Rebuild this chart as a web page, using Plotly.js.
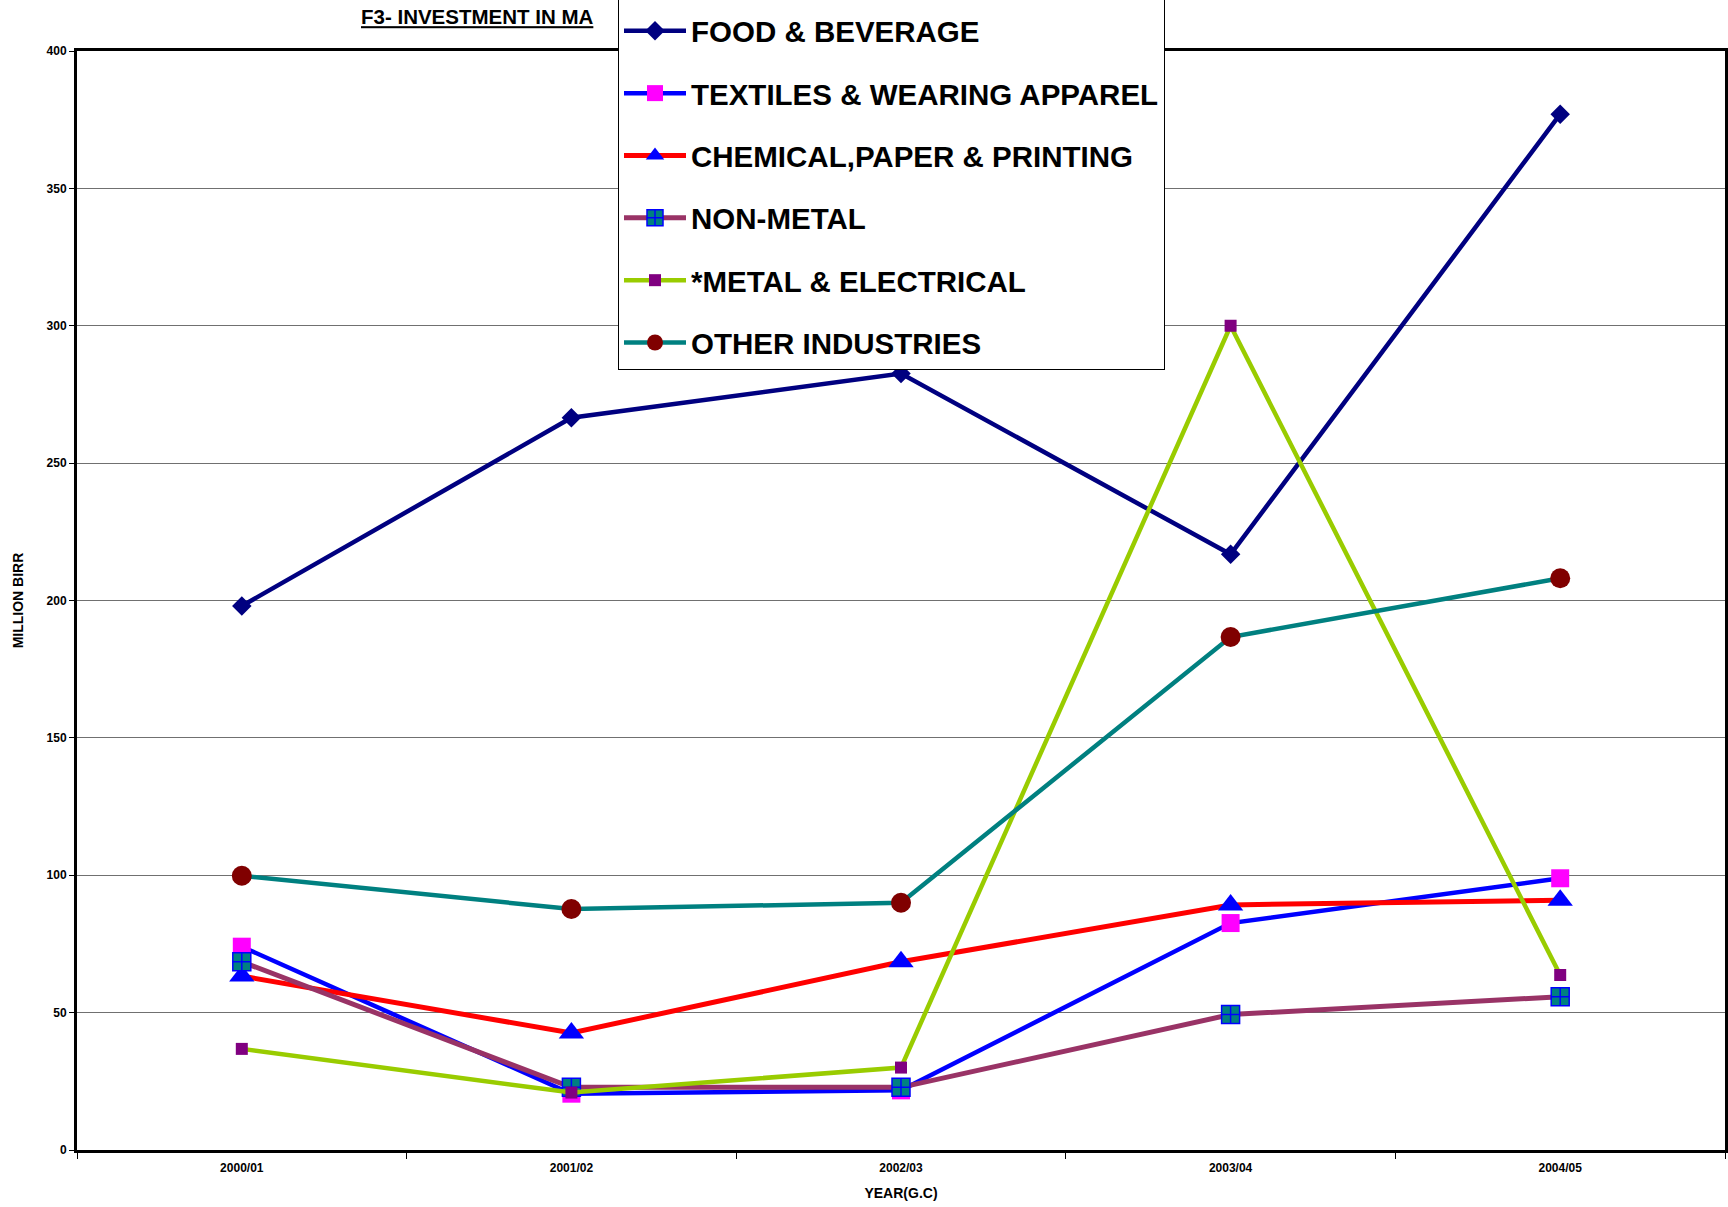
<!DOCTYPE html>
<html>
<head>
<meta charset="utf-8">
<script src="https://cdn.plot.ly/plotly-3.0.1.min.js"></script>
<style>
  html, body { margin: 0; padding: 0; background: #ffffff; }
  #chart { width: 1728px; height: 1207px; }
</style>
</head>
<body>
<div id="chart"></div>
<script>
// ---- Data (million Birr) ----
const years = ['2000/01', '2001/02', '2002/03', '2003/04', '2004/05'];
const foodBeverage = [198, 266.5, 282.6, 216.8, 377];
const textilesApparel = [74, 20.5, 21.7, 82.6, 98.9];
const chemicalPaperPrinting = [63.3, 42.6, 68.5, 89.2, 90.9];
const nonMetal = [68.5, 22.8, 22.8, 49.3, 55.8];
const metalElectrical = [36.8, 20.9, 30.0, 300, 63.7];
const otherIndustries = [99.8, 87.7, 90.0, 186.7, 208.1];

const seriesNames = [
  'FOOD & BEVERAGE',
  'TEXTILES & WEARING APPAREL',
  'CHEMICAL,PAPER & PRINTING',
  'NON-METAL',
  '*METAL & ELECTRICAL',
  'OTHER INDUSTRIES'
];

// visible part of the title (the rest is hidden behind the legend box)
const chartTitle = 'F3- INVESTMENT IN MA';

const FONT = 'Liberation Sans, Arial, sans-serif';

function tr(i, y, lineColor, lineWidth, marker) {
  return {
    type: 'scatter',
    mode: 'lines+markers',
    x: years,
    y: y,
    name: seriesNames[i],
    legendgroup: 'g' + i,
    line: { color: lineColor, width: lineWidth },
    marker: marker,
    cliponaxis: false
  };
}

const data = [
  tr(0, foodBeverage, '#000080', 4.5, { symbol: 'diamond', size: 15, color: '#000080' }),
  tr(1, textilesApparel, '#0000FF', 4.5, { symbol: 'square', size: 18, color: '#FF00FF' }),
  tr(2, chemicalPaperPrinting, '#FF0000', 5, { symbol: 'triangle-up', size: 22, color: '#0000FF' }),
  tr(3, nonMetal, '#993366', 5, { symbol: 'square-cross', size: 18, color: '#008080', line: { color: '#0000FF', width: 1.5 } }),
  tr(4, metalElectrical, '#99CC00', 4.5, { symbol: 'square', size: 12, color: '#800080' }),
  tr(5, otherIndustries, '#008080', 4.5, { symbol: 'circle', size: 20, color: '#800000' })
];

const layout = {
  width: 1728,
  height: 1207,
  paper_bgcolor: '#ffffff',
  plot_bgcolor: '#ffffff',
  margin: { l: 77, r: 3, t: 51, b: 57, autoexpand: false },
  font: { family: FONT, color: '#000000' },
  title: {
    text: chartTitle,
    xref: 'container', x: 361 / 1728, xanchor: 'left',
    yref: 'container', y: 1 - 17 / 1207, yanchor: 'middle',
    font: { family: FONT, size: 20.5, weight: 700, color: '#000000', lineposition: 'under' }
  },
  xaxis: {
    type: 'category',
    range: [-0.5, 4.5],
    tickson: 'boundaries',
    ticks: 'outside',
    ticklen: 6,
    tickcolor: '#000000',
    tickwidth: 1,
    ticklabelstandoff: 5,
    showline: true,
    linecolor: '#000000',
    linewidth: 3,
    mirror: true,
    showgrid: false,
    zeroline: false,
    tickfont: { family: FONT, size: 12, weight: 700, color: '#000000' },
    title: { text: 'YEAR(G.C)', standoff: 14, font: { family: FONT, size: 14, weight: 700, color: '#000000' } },
    automargin: false,
    fixedrange: true
  },
  yaxis: {
    range: [0, 400],
    dtick: 50,
    tick0: 0,
    ticks: 'outside',
    ticklen: 5,
    tickcolor: '#000000',
    tickwidth: 1,
    showline: true,
    linecolor: '#000000',
    linewidth: 3,
    mirror: true,
    showgrid: true,
    gridcolor: '#707070',
    gridwidth: 1,
    zeroline: false,
    tickfont: { family: FONT, size: 12, weight: 700, color: '#000000' },
    title: { text: 'MILLION BIRR', standoff: 20, font: { family: FONT, size: 14, weight: 700, color: '#000000' } },
    automargin: false,
    fixedrange: true
  },
  showlegend: true,
  legend: {
    x: (618 - 77) / 1648,
    xanchor: 'left',
    y: (1150 + 5) / 1099,
    yanchor: 'top',
    bgcolor: '#ffffff',
    bordercolor: '#000000',
    borderwidth: 1,
    itemwidth: 62,
    tracegroupgap: 21,
    traceorder: 'grouped',
    title: { text: '&nbsp;', font: { family: FONT, size: 7 } },
    font: { family: FONT, size: 29.5, weight: 700, color: '#000000' }
  },
  hovermode: false
};

Plotly.newPlot('chart', data, layout, { displayModeBar: false, staticPlot: true });
</script>
</body>
</html>
